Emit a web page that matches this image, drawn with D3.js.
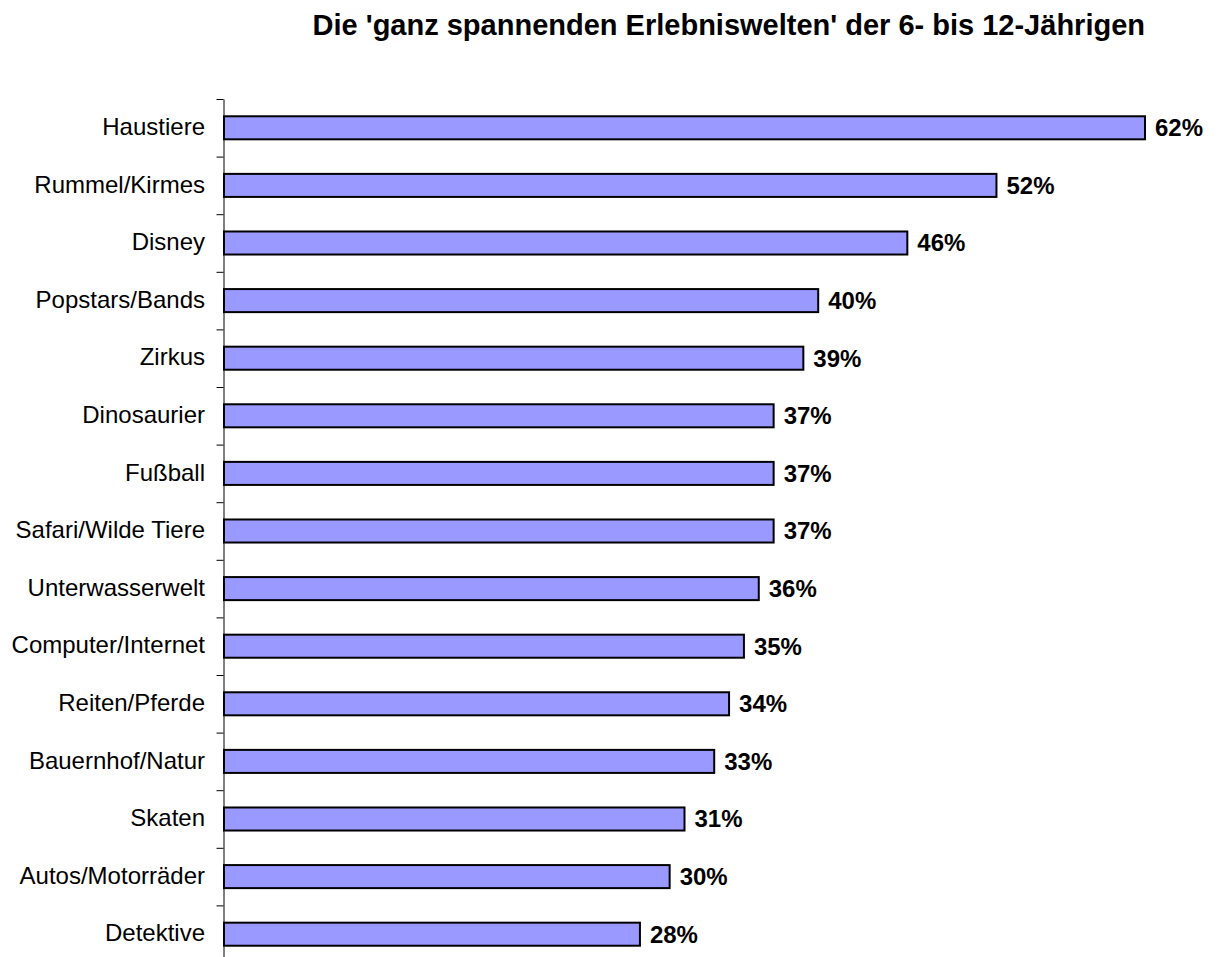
<!DOCTYPE html>
<html>
<head>
<meta charset="utf-8">
<script src="https://cdn.jsdelivr.net/npm/d3@7"></script>
<style>
  body { margin: 0; background: #fff; }
  text { font-family: "Liberation Sans", Arial, sans-serif; }
</style>
</head>
<body>
<svg></svg>
<script>
let title = "Die 'ganz spannenden Erlebniswelten' der 6- bis 12-Jährigen";

let categories = [
    "Haustiere", "Rummel/Kirmes", "Disney", "Popstars/Bands", "Zirkus",
    "Dinosaurier", "Fußball", "Safari/Wilde Tiere", "Unterwasserwelt",
    "Computer/Internet", "Reiten/Pferde", "Bauernhof/Natur", "Skaten",
    "Autos/Motorräder", "Detektive"
];
let values = [62, 52, 46, 40, 39, 37, 37, 37, 36, 35, 34, 33, 31, 30, 28];

let width = 1221;
let height = 957;
let leftX = 224;
let topY = 99;
let step = 57.6;

let svg = d3.select("svg")
    .attr("width", width)
    .attr("height", height);

let xScale = d3.scaleLinear()
    .domain([0, 62])
    .range([leftX, 1145]);

let yScale = d3.scaleBand()
    .domain(categories)
    .range([topY, topY + step * categories.length])
    .paddingInner(0.6)
    .paddingOuter(0.3);

// title
svg.append("text")
    .attr("x", 1145)
    .attr("y", 35)
    .attr("text-anchor", "end")
    .attr("font-size", 29)
    .attr("font-weight", "bold")
    .text(title);

// bars
svg.selectAll("rect.bar")
    .data(values)
    .enter()
    .append("rect")
    .attr("class", "bar")
    .attr("x", xScale(0))
    .attr("y", (d, i) => yScale(categories[i]))
    .attr("width", (d) => xScale(d) - xScale(0))
    .attr("height", yScale.bandwidth())
    .attr("fill", "#9999ff")
    .attr("stroke", "#000")
    .attr("stroke-width", 2);

// value labels
svg.selectAll("text.val")
    .data(values)
    .enter()
    .append("text")
    .attr("class", "val")
    .attr("x", (d) => xScale(d) + 10)
    .attr("y", (d, i) => yScale(categories[i]) + yScale.bandwidth() / 2)
    .attr("dy", "0.35em")
    .attr("font-size", 24)
    .attr("font-weight", "bold")
    .text((d) => d + "%");

// category axis: ticks between categories
let yAxisScale = d3.scaleLinear()
    .domain([0, categories.length])
    .range([topY, topY + step * categories.length]);

let yAxis = d3.axisLeft(yAxisScale)
    .tickValues(d3.range(0, categories.length))
    .tickSize(7)
    .tickSizeOuter(0)
    .tickFormat("");

let g = svg.append("g")
    .attr("transform", "translate(" + (leftX - 0.5) + ", 0)")
    .call(yAxis);
g.selectAll("path, line").attr("stroke", "#000");

// category labels
svg.selectAll("text.cat")
    .data(categories)
    .enter()
    .append("text")
    .attr("class", "cat")
    .attr("x", 205)
    .attr("y", (d) => yScale(d) + yScale.bandwidth() / 2)
    .attr("dy", "0.3em")
    .attr("text-anchor", "end")
    .attr("font-size", 24)
    .text((d) => d);
</script>
</body>
</html>
